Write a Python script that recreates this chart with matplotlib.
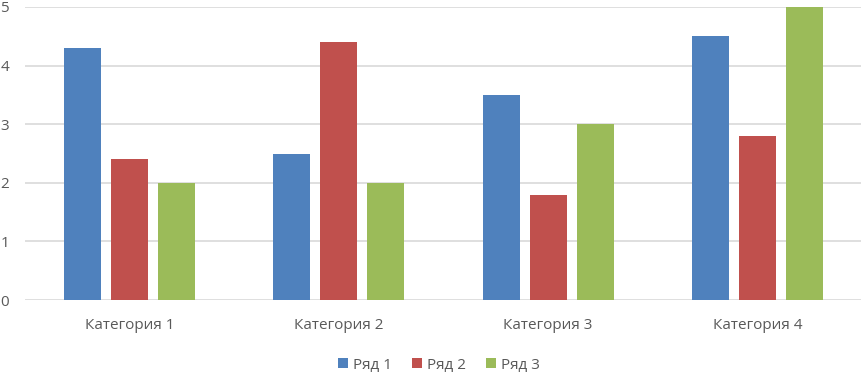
import matplotlib
matplotlib.use("Agg")
import matplotlib.pyplot as plt
from matplotlib.patches import Patch
import numpy as np

categories = ["Категория 1", "Категория 2", "Категория 3", "Категория 4"]
series_names = ["Ряд 1", "Ряд 2", "Ряд 3"]
ряд1 = [4.3, 2.5, 3.5, 4.5]
ряд2 = [2.4, 4.4, 1.8, 2.8]
ряд3 = [2.0, 2.0, 3.0, 5.0]
colors = ["#4F81BD", "#C0504D", "#9BBB59"]

plt.rcParams['font.family'] = ['Open Sans', 'DejaVu Sans']

fig = plt.figure(figsize=(8.62, 3.75), dpi=100)
ax = fig.add_axes([25/862, 1 - 300/375, 1 - 25/862, 293/375])

x = np.arange(len(categories)) + 0.5
width = 0.177
step = 0.2245
for j, (vals, c) in enumerate(zip([ряд1, ряд2, ряд3], colors)):
    ax.bar(x + (j - 1) * step, vals, width=width, color=c, zorder=3)

ax.set_xlim(0, 4)
ax.set_ylim(0, 5)
ax.set_yticks(range(6))
ax.set_xticks(x)
ax.set_xticklabels(categories)
ax.grid(axis='y', color='#D9D9D9', linewidth=1.2, zorder=0)
for s in ax.spines.values():
    s.set_visible(False)
ax.tick_params(axis='both', length=0, colors='#595959', labelsize=11)
ax.tick_params(axis='y', pad=11.5)
ax.tick_params(axis='x', pad=13)

handles = [Patch(facecolor=c, label=n) for c, n in zip(colors, series_names)]
fig.legend(handles=handles, loc='center', bbox_to_anchor=(439/862, 1 - 365/375), ncol=3,
           frameon=False, fontsize=11, handlelength=0.65, handleheight=0.65,
           handletextpad=0.35, columnspacing=1.3, labelcolor='#595959')

fig.savefig("out.png", dpi=100)
